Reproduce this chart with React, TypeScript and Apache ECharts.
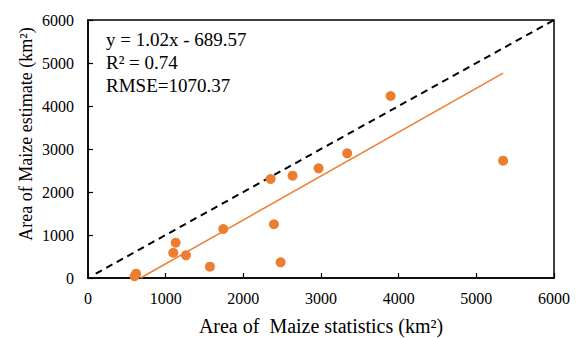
import React, { useEffect, useRef } from "react";
import * as echarts from "echarts";

const statistics = [600, 620, 1098, 1129, 1261, 1570, 1742, 2351, 2394, 2480, 2634, 2969, 3337, 3896, 5345];
const estimates = [40, 100, 588, 821, 527, 263, 1140, 2302, 1249, 365, 2380, 2551, 2900, 4233, 2728];
const slope = 1.02;
const intercept = -689.57;
const fitX = [676, 5345];
const oneToOneX = [100, 6000];
const annotationLines = ["y = 1.02x - 689.57", "R\u00b2 = 0.74", "RMSE=1070.37"];
const xTitle = "Area of  Maize statistics (km\u00b2)";
const yTitle = "Area of Maize estimate (km\u00b2)";

const FONT = "Liberation Serif, Times New Roman, serif";
const ORANGE = "#ED7D31";

export default function App() {
  const ref = useRef<HTMLDivElement>(null);
  useEffect(() => {
    document.body.style.margin = "0";
    const chart = echarts.init(ref.current!, null, { renderer: "svg" });
    const points = statistics.map((x, i) => [x, estimates[i]]);
    chart.setOption({
      animation: false,
      backgroundColor: "#fff",
      textStyle: { fontFamily: FONT },
      grid: {
        left: 88, right: 22, top: 20, bottom: 60,
        outerBoundsMode: "none", containLabel: false,
        show: true, borderColor: "#000", borderWidth: 1.5,
      },
      xAxis: {
        type: "value",
        min: 0,
        max: 6000,
        interval: 1000,
        name: xTitle,
        nameLocation: "middle",
        nameGap: 38,
        nameTextStyle: { fontFamily: FONT, fontSize: 20, color: "#000" },
        axisLine: { show: true, lineStyle: { color: "#000", width: 1.5 } },
        axisTick: { show: true, inside: true, length: 5, lineStyle: { color: "#000", width: 1.2 } },
        axisLabel: { fontFamily: FONT, fontSize: 16, color: "#000", margin: 12, formatter: (v: number) => String(v) },
        splitLine: { show: false },
      },
      yAxis: {
        type: "value",
        min: 0,
        max: 6000,
        interval: 1000,
        axisLine: { show: true, lineStyle: { color: "#000", width: 1.5 } },
        axisTick: { show: true, inside: true, length: 5, lineStyle: { color: "#000", width: 1.2 } },
        axisLabel: { fontFamily: FONT, fontSize: 16, color: "#000", margin: 14, formatter: (v: number) => String(v) },
        splitLine: { show: false },
      },
      series: [
        {
          type: "line",
          data: oneToOneX.map((x) => [x, x]),
          symbol: "none",
          lineStyle: { color: "#000", width: 2, type: [7, 5] },
          silent: true,
          z: 1,
        },
        {
          type: "line",
          data: fitX.map((x) => [x, slope * x + intercept]),
          symbol: "none",
          lineStyle: { color: ORANGE, width: 1.5 },
          silent: true,
          z: 2,
        },
        {
          type: "scatter",
          data: points,
          symbolSize: 10,
          itemStyle: { color: ORANGE, opacity: 1 },
          z: 3,
        },
      ],
      graphic: [
        {
          type: "text",
          left: 106,
          top: 28,
          style: {
            text: annotationLines.join("\n"),
            fontFamily: FONT,
            fontSize: 19,
            fill: "#000",
            lineHeight: 23,
          },
        },
        {
          type: "text",
          x: 26,
          y: 134,
          rotation: Math.PI / 2,
          style: {
            text: yTitle,
            fontFamily: FONT,
            fontSize: 18,
            fill: "#000",
            align: "center",
            verticalAlign: "middle",
          },
        },
      ],
    });
    return () => chart.dispose();
  }, []);
  return <div ref={ref} style={{ width: 576, height: 338, position: "absolute", left: 0, top: 0 }} />;
}
